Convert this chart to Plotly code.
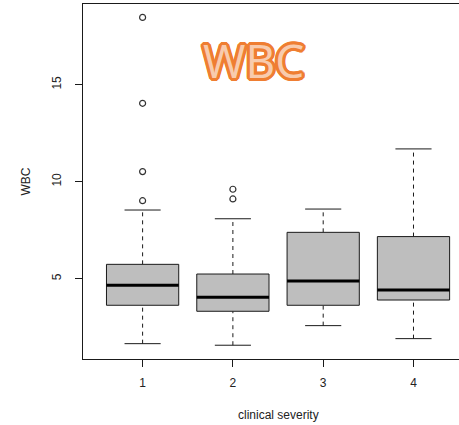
import plotly.graph_objects as go

# Five-number summaries of WBC by clinical severity group
groups = ["1", "2", "3", "4"]
lower_whisker = [1.65, 1.57, 2.58, 1.91]
q1 = [3.63, 3.32, 3.63, 3.90]
median = [4.66, 4.04, 4.88, 4.42]
q3 = [5.74, 5.24, 7.39, 7.17]
upper_whisker = [8.54, 8.09, 8.59, 11.69]
outliers = {
    "1": [9.02, 10.52, 14.04, 18.47],
    "2": [9.11, 9.61],
}

box_half = 0.4      # half box width in group units
cap_half = 0.2      # half whisker-cap width
ink = "#1a1a1a"

fig = go.Figure()

for i, g in enumerate(groups):
    x = i + 1
    # dashed whiskers
    for a, b in ((q3[i], upper_whisker[i]), (lower_whisker[i], q1[i])):
        fig.add_trace(go.Scatter(
            x=[x, x], y=[a, b], mode="lines",
            line=dict(color=ink, width=1, dash="4px,4px"),
            hoverinfo="skip", showlegend=False))
    # whisker caps
    for v in (upper_whisker[i], lower_whisker[i]):
        fig.add_trace(go.Scatter(
            x=[x - cap_half, x + cap_half], y=[v, v], mode="lines",
            line=dict(color=ink, width=1),
            hoverinfo="skip", showlegend=False))
    # box
    fig.add_trace(go.Scatter(
        x=[x - box_half, x + box_half, x + box_half, x - box_half, x - box_half],
        y=[q1[i], q1[i], q3[i], q3[i], q1[i]],
        mode="lines", fill="toself", fillcolor="#bebebe",
        line=dict(color=ink, width=1),
        hoverinfo="skip", showlegend=False))
    # median
    fig.add_trace(go.Scatter(
        x=[x - box_half, x + box_half], y=[median[i], median[i]], mode="lines",
        line=dict(color="#000000", width=3),
        hoverinfo="skip", showlegend=False))
    # outlying points
    if g in outliers:
        pts = outliers[g]
        fig.add_trace(go.Scatter(
            x=[x] * len(pts), y=pts, mode="markers",
            marker=dict(symbol="circle-open", size=6, color="#333333",
                        line=dict(width=1.2)),
            hoverinfo="skip", showlegend=False))

axis_font = dict(family="Liberation Sans, Arial, sans-serif", size=12, color="#222222")

fig.update_xaxes(
    range=[0.34, 4.504], tickvals=[1, 2, 3, 4], ticktext=groups,
    showline=True, linecolor=ink, linewidth=1, mirror=True,
    ticks="outside", ticklen=7, tickcolor=ink, tickfont=axis_font,
    ticklabelstandoff=6,
    showgrid=False, zeroline=False)
fig.update_yaxes(
    range=[0.86, 19.16], tickvals=[5, 10, 15],
    showline=True, linecolor=ink, linewidth=1,
    ticks="outside", ticklen=7, tickcolor=ink, tickfont=axis_font,
    ticklabelstandoff=9,
    tickangle=-90, showgrid=False, zeroline=False,
    title=dict(text="WBC", font=axis_font, standoff=17))

fig.add_annotation(
    x=2.5, xref="x", y=-0.158, yref="paper", yanchor="middle",
    text="clinical severity", showarrow=False, font=axis_font)

# orange outlined "WBC" heading
orange = "#EF7E32"
outline = ", ".join(
    f"{dx}px {dy}px 0.6px {orange}"
    for dx, dy in [(-3, 0), (3, 0), (0, -3), (0, 3), (-2, -2), (2, -2), (-2, 2), (2, 2),
                   (-3, -1), (3, 1), (-1, 3), (1, -3), (-3, 1), (3, -1), (1, 3), (-1, -3),
                   (-1, 0), (1, 0), (0, 1), (0, -1)])
fig.add_annotation(
    xref="paper", x=(253 - 83) / (459 - 83),
    yref="paper", y=1 - (59.5 - 4) / (425 - 4 - 66),
    showarrow=False, text="WBC", xanchor="center", yanchor="middle",
    font=dict(family="Open Sans", size=46, weight=500, color="#F8CBAD", shadow=outline))

fig.update_layout(
    width=459, height=425,
    margin=dict(l=83, r=0, t=4, b=66),
    paper_bgcolor="white", plot_bgcolor="white",
    showlegend=False)

fig.write_html("out.html")
